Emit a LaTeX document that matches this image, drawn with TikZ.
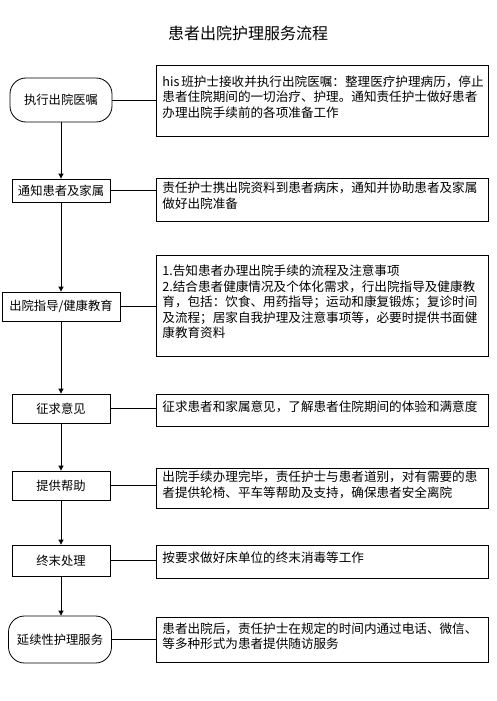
\documentclass[tikz,border=0pt]{standalone}
\usepackage{fontspec}
\usepackage{tikz}
\usetikzlibrary{arrows.meta}
\newfontfamily\cjk{Noto Sans CJK SC}
\newcommand\desctext[1]{\parbox[b]{320pt}{#1}\rule[-9pt]{0pt}{9pt}}

\begin{document}
\begin{tikzpicture}[x=1pt,y=-1pt,line width=0.8pt,
  stepnode/.style={draw,rectangle,minimum width=98pt,minimum height=29pt,
    inner sep=0pt,font=\cjk\fontsize{12.3}{14}\selectfont},
  roundnode/.style={stepnode,rounded corners=16pt,minimum width=102pt,minimum height=44pt},
  descbox/.style={draw,rectangle,anchor=north west,minimum width=332pt,
    inner xsep=6pt,inner ysep=0pt,font=\cjk\fontsize{12.6}{15.5}\selectfont},
  flow/.style={-{Triangle[length=5pt,width=5pt]}}]
          \useasboundingbox (0,0) rectangle (496,701);

          \node[font=\cjk\fontsize{16}{16}\selectfont] (title) at (248,33) {患者出院护理服务流程};

          \node[roundnode] (n1) at (61,100) {执行出院医嘱};
          \node[stepnode,minimum height=23pt] (n2) at (61,190.5) {通知患者及家属};
          \node[stepnode,minimum width=118pt] (n3) at (61,306.5) {出院指导/健康教育};
          \node[stepnode] (n4) at (61,408.5) {征求意见};
          \node[stepnode] (n5) at (61,485.5) {提供帮助};
          \node[stepnode,minimum height=31pt] (n6) at (61,560.5) {终末处理};
          \node[roundnode,minimum width=103pt,minimum height=47pt] (n7) at (60,639.5) {延续性护理服务};

          \node[descbox,minimum height=71pt] (d1) at (156,65) {\desctext{his 班护士接收并执行出院医嘱：整理医疗护理病历，停止\\患者住院期间的一切治疗、护理。通知责任护士做好患者\\办理出院手续前的各项准备工作}};
          \node[descbox,minimum height=43pt] (d2) at (156,178) {\desctext{责任护士携出院资料到患者病床，通知并协助患者及家属\\做好出院准备}};
          \node[descbox,minimum height=101pt] (d3) at (156,255) {\desctext{1.告知患者办理出院手续的流程及注意事项\\2.结合患者健康情况及个体化需求，行出院指导及健康教\\育，包括：饮食、用药指导；运动和康复锻炼；复诊时间\\及流程；居家自我护理及注意事项等，必要时提供书面健\\康教育资料}};
          \node[descbox,minimum height=32pt] (d4) at (156,394) {\desctext{征求患者和家属意见，了解患者住院期间的体验和满意度}};
          \node[descbox,minimum height=40pt] (d5) at (156,468) {\desctext{出院手续办理完毕，责任护士与患者道别，对有需要的患\\者提供轮椅、平车等帮助及支持，确保患者安全离院}};
          \node[descbox,minimum height=33pt] (d6) at (156,545) {\desctext{按要求做好床单位的终末消毒等工作}};
          \node[descbox,minimum height=45pt] (d7) at (156,617) {\desctext{患者出院后，责任护士在规定的时间内通过电话、微信、\\等多种形式为患者提供随访服务}};

          \foreach \a/\b in {n1/n2,n2/n3,n3/n4,n4/n5,n5/n6,n6/n7}
            \draw[flow] (\a.south) -- (\a.south |- \b.north);

          \foreach \i in {1,...,7}
            \draw (n\i.east) -- (n\i.east -| d\i.west);

          \end{tikzpicture}
\end{document}
